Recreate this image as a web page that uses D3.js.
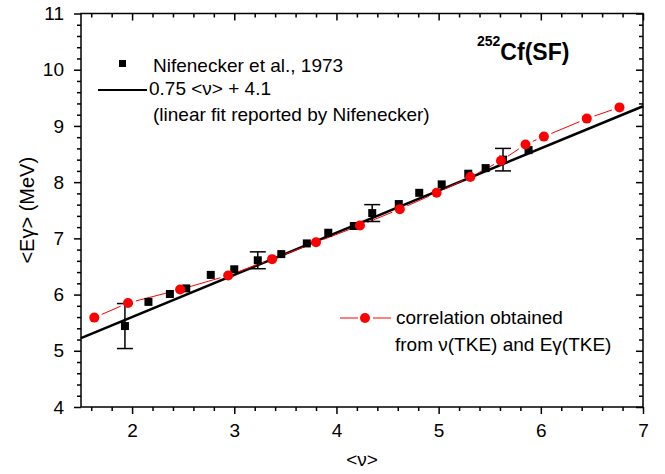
<!DOCTYPE html>
<html>
<head>
<meta charset="utf-8">
<script src="https://cdn.jsdelivr.net/npm/d3@7"></script>
<style>
  body { margin: 0; background: #fff; }
  svg { display: block; font-family: "Liberation Sans", Arial, sans-serif; }
</style>
</head>
<body>
<svg id="chart" width="665" height="474"></svg>
<script>
// Nifenecker et al. 1973: <Egamma> vs <nu>
const nuNif = [1.93, 2.16, 2.37, 2.53, 2.77, 3.00, 3.23, 3.46, 3.71, 3.92, 4.17, 4.35, 4.61, 4.81, 5.03, 5.29, 5.46, 5.63, 5.88];
const egNif = [5.44, 5.87, 6.01, 6.11, 6.35, 6.45, 6.61, 6.72, 6.91, 7.10, 7.22, 7.45, 7.61, 7.81, 7.96, 8.15, 8.25, 8.40, 8.57];
const errNif = [0.40, 0, 0, 0, 0, 0, 0.15, 0, 0, 0, 0, 0.15, 0, 0, 0, 0, 0, 0.20, 0];

// correlation from nu(TKE) and Egamma(TKE)
const nuCorr = [1.63, 1.96, 2.47, 2.94, 3.37, 3.80, 4.23, 4.62, 4.98, 5.31, 5.61, 5.85, 6.03, 6.45, 6.77];
const egCorr = [5.59, 5.85, 6.09, 6.34, 6.63, 6.93, 7.23, 7.52, 7.81, 8.09, 8.38, 8.67, 8.81, 9.13, 9.33];

// linear fit reported by Nifenecker
const fitSlope = 0.75, fitIntercept = 4.1;

const xTicks = [2, 3, 4, 5, 6, 7];
const yTicks = [4, 5, 6, 7, 8, 9, 10, 11];

const svg = d3.select("#chart");
const plotL = 81, plotR = 643, plotT = 13.5, plotB = 407;

const x = d3.scaleLinear().domain([1.5, 7]).range([plotL, plotR]);
const y = d3.scaleLinear().domain([4, 11]).range([plotB, plotT]);

const xMinor = d3.range(8, 35).filter(i => i % 5 !== 0).map(i => i / 5);
const yMinor = d3.range(20, 55).filter(i => i % 5 !== 0).map(i => i / 5);

function styleAxis(g) {
  g.select(".domain").remove();
  g.selectAll("line").attr("stroke", "#000").attr("stroke-width", 1.5);
  g.selectAll("text").attr("font-size", 19).attr("fill", "#000")
    .attr("font-family", "'Liberation Sans', Arial, sans-serif");
}

// bottom axis (ticks out)
svg.append("g").attr("transform", `translate(0,${plotB})`)
  .call(d3.axisBottom(x).tickValues(xTicks).tickSize(7).tickPadding(9.5).tickFormat(d3.format("d")))
  .call(styleAxis);
svg.append("g").attr("transform", `translate(0,${plotB})`)
  .call(d3.axisBottom(x).tickValues(xMinor).tickSize(4).tickFormat(""))
  .call(styleAxis);

// left axis (ticks out)
svg.append("g").attr("transform", `translate(${plotL},0)`)
  .call(d3.axisLeft(y).tickValues(yTicks).tickSize(7).tickPadding(10).tickFormat(d3.format("d")))
  .call(styleAxis);
svg.append("g").attr("transform", `translate(${plotL},0)`)
  .call(d3.axisLeft(y).tickValues(yMinor).tickSize(4).tickFormat(""))
  .call(styleAxis);

// top and right mirror axes (ticks in)
svg.append("g").attr("transform", `translate(0,${plotT})`)
  .call(d3.axisTop(x).tickValues(xTicks).tickSize(-7).tickFormat(""))
  .call(styleAxis);
svg.append("g").attr("transform", `translate(0,${plotT})`)
  .call(d3.axisTop(x).tickValues(xMinor).tickSize(-4).tickFormat(""))
  .call(styleAxis);
svg.append("g").attr("transform", `translate(${plotR},0)`)
  .call(d3.axisRight(y).tickValues(yTicks).tickSize(-7).tickFormat(""))
  .call(styleAxis);
svg.append("g").attr("transform", `translate(${plotR},0)`)
  .call(d3.axisRight(y).tickValues(yMinor).tickSize(-4).tickFormat(""))
  .call(styleAxis);

// frame
svg.append("rect")
  .attr("x", plotL).attr("y", plotT)
  .attr("width", plotR - plotL).attr("height", plotB - plotT)
  .attr("fill", "none").attr("stroke", "#000").attr("stroke-width", 1.5);

// axis titles
svg.append("text")
  .attr("transform", `translate(34,${(plotT + plotB) / 2}) rotate(-90)`)
  .attr("text-anchor", "middle")
  .attr("font-size", 20)
  .text("<Eγ> (MeV)");

svg.append("text")
  .attr("x", (plotL + plotR) / 2).attr("y", 466)
  .attr("text-anchor", "middle")
  .attr("font-size", 19)
  .text("<ν>");

// fit line across the whole range
svg.append("line")
  .attr("x1", x(1.5)).attr("y1", y(fitSlope * 1.5 + fitIntercept))
  .attr("x2", x(7)).attr("y2", y(fitSlope * 7 + fitIntercept))
  .attr("stroke", "#000").attr("stroke-width", 2.5);

// correlation: thin red segments with gaps around the symbols
const gap = 8;
const corr = nuCorr.map((v, i) => [x(v), y(egCorr[i])]);
for (let i = 0; i < corr.length - 1; i++) {
  const [x1, y1] = corr[i], [x2, y2] = corr[i + 1];
  const len = Math.hypot(x2 - x1, y2 - y1);
  if (len <= 2 * gap) continue;
  const ux = (x2 - x1) / len, uy = (y2 - y1) / len;
  svg.append("line")
    .attr("x1", x1 + ux * gap).attr("y1", y1 + uy * gap)
    .attr("x2", x2 - ux * gap).attr("y2", y2 - uy * gap)
    .attr("stroke", "red").attr("stroke-width", 1);
}

// error bars
const cap = 8;
nuNif.forEach((v, i) => {
  if (!errNif[i]) return;
  const cx = x(v), yt = y(egNif[i] + errNif[i]), yb = y(egNif[i] - errNif[i]);
  const g = svg.append("g").attr("stroke", "#000").attr("stroke-width", 1.5);
  g.append("line").attr("x1", cx).attr("x2", cx).attr("y1", yt).attr("y2", yb);
  g.append("line").attr("x1", cx - cap).attr("x2", cx + cap).attr("y1", yt).attr("y2", yt);
  g.append("line").attr("x1", cx - cap).attr("x2", cx + cap).attr("y1", yb).attr("y2", yb);
});

// Nifenecker squares
const sq = 8;
svg.selectAll("rect.nif")
  .data(nuNif)
  .enter()
  .append("rect")
  .attr("class", "nif")
  .attr("x", d => x(d) - sq / 2)
  .attr("y", (d, i) => y(egNif[i]) - sq / 2)
  .attr("width", sq).attr("height", sq)
  .attr("fill", "#000");

// correlation circles
svg.selectAll("circle.corr")
  .data(nuCorr)
  .enter()
  .append("circle")
  .attr("class", "corr")
  .attr("cx", d => x(d))
  .attr("cy", (d, i) => y(egCorr[i]))
  .attr("r", 5)
  .attr("fill", "red");

// top-left legend
svg.append("rect").attr("x", 119).attr("y", 60).attr("width", 7).attr("height", 7).attr("fill", "#000");
svg.append("text").attr("x", 153).attr("y", 72).attr("font-size", 19).text("Nifenecker et al., 1973");
svg.append("line").attr("x1", 98).attr("x2", 147).attr("y1", 90).attr("y2", 90)
  .attr("stroke", "#000").attr("stroke-width", 2);
svg.append("text").attr("x", 149).attr("y", 95).attr("font-size", 19).text("0.75 <ν> + 4.1");
svg.append("text").attr("x", 153).attr("y", 121).attr("font-size", 19).text("(linear fit reported by Nifenecker)");

// reaction label
const title = svg.append("text").attr("x", 477).attr("y", 60).attr("font-weight", "bold");
title.append("tspan").attr("font-size", 14).attr("dy", -14).text("252");
title.append("tspan").attr("font-size", 23).attr("dy", 14).text("Cf(SF)");

// bottom-right legend
svg.append("line").attr("x1", 340).attr("x2", 358).attr("y1", 318).attr("y2", 318)
  .attr("stroke", "red").attr("stroke-width", 1);
svg.append("line").attr("x1", 373).attr("x2", 391).attr("y1", 318).attr("y2", 318)
  .attr("stroke", "red").attr("stroke-width", 1);
svg.append("circle").attr("cx", 365).attr("cy", 318).attr("r", 5).attr("fill", "red");
svg.append("text").attr("x", 396).attr("y", 324).attr("font-size", 19).text("correlation obtained");
svg.append("text").attr("x", 395).attr("y", 351).attr("font-size", 19).text("from ν(TKE) and Eγ(TKE)");
</script>
</body>
</html>
